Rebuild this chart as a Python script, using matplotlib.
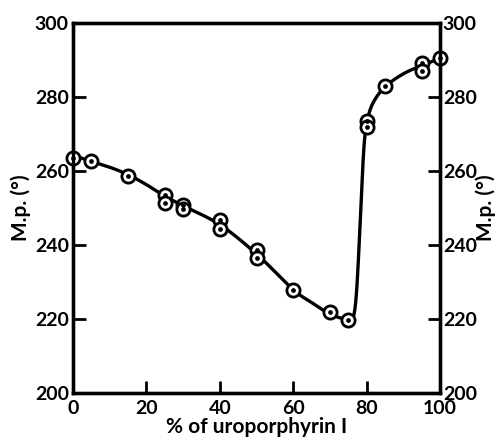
import numpy as np
import matplotlib
matplotlib.use("Agg")
import matplotlib.pyplot as plt

# measured points (% uroporphyrin I, melting point)
pct = [0, 5, 15, 25, 25, 30, 30, 40, 40, 50, 50, 60, 70, 75, 80, 80, 85, 95, 95, 100]
mp = [263.6, 262.8, 258.7, 253.6, 251.4, 250.9, 249.7, 246.7, 244.4, 238.7, 236.6,
      227.9, 221.8, 219.8, 273.6, 271.8, 282.9, 289.0, 287.0, 290.4]

# hand drawn curve knots
curve_x = [0, 5, 10, 15, 20, 25, 30, 40, 50, 60, 65, 70, 74, 75.5, 76.5, 77.3, 78.2, 79.0, 79.6, 80.5, 82, 85, 90, 95, 100]
curve_y = [264.2, 262.6, 261.0, 259.0, 256.3, 253.2, 250.6, 245.5, 237.6, 228.0, 224.5, 221.4, 220.0, 219.8, 221.0, 228, 245, 262, 270, 275.0, 278.8, 282.7, 286.2, 288.4, 290.4]
yticks = [200, 220, 240, 260, 280, 300]
xticks = [0, 20, 40, 60, 80, 100]


def smooth(xs, ys, n=20):
    # catmull-rom through the knots
    pts = np.column_stack([xs, ys]).astype(float)
    pts = np.vstack([pts[0], pts, pts[-1]])
    out = []
    for i in range(1, len(pts) - 2):
        p0, p1, p2, p3 = pts[i - 1], pts[i], pts[i + 1], pts[i + 2]
        for t in np.linspace(0, 1, n, endpoint=False):
            t2, t3 = t * t, t * t * t
            out.append(0.5 * ((2 * p1) + (-p0 + p2) * t + (2 * p0 - 5 * p1 + 4 * p2 - p3) * t2
                              + (-p0 + 3 * p1 - 3 * p2 + p3) * t3))
    out.append(pts[-2])
    out = np.array(out)
    return out[:, 0], out[:, 1]


plt.rcParams['font.family'] = ['Lato', 'DejaVu Sans']
plt.rcParams['font.weight'] = 'bold'

fig = plt.figure(figsize=(4.99, 4.42), dpi=100)
ax = fig.add_axes([0.1463, 0.1102, 0.7355, 0.8385])

cx, cy = smooth(curve_x, curve_y)
ax.plot(cx, cy, color='black', lw=2.4, zorder=2)
ax.plot(pct, mp, 'o', ms=9.5, mfc='white', mec='black', mew=2.0, zorder=3, clip_on=False)
ax.plot(pct, mp, 'o', ms=2.4, color='black', zorder=4, clip_on=False)

ax.set_xlim(0, 100)
ax.set_ylim(200, 300)
ax.set_xticks(xticks)
ax.set_yticks(yticks)
for s in ax.spines.values():
    s.set_linewidth(2.4)
ax.tick_params(direction='in', length=9, width=2, labelsize=14, pad=3, top=False, right=False)
ax.tick_params(axis='x', pad=5)
ax.set_xlabel('% of uroporphyrin I', fontsize=15, fontweight='bold', labelpad=0)
ax.set_ylabel('M.p. (°)', fontsize=15, fontweight='bold', labelpad=3)

ax2 = ax.twinx()
ax2.set_ylim(200, 300)
ax2.set_yticks(yticks)
ax2.tick_params(direction='in', length=9, width=2, labelsize=14, pad=2)
ax2.set_ylabel('M.p. (°)', fontsize=15, fontweight='bold', rotation=90, labelpad=-1)
for s in ax2.spines.values():
    s.set_linewidth(2.4)

fig.savefig('out.png', dpi=100)
